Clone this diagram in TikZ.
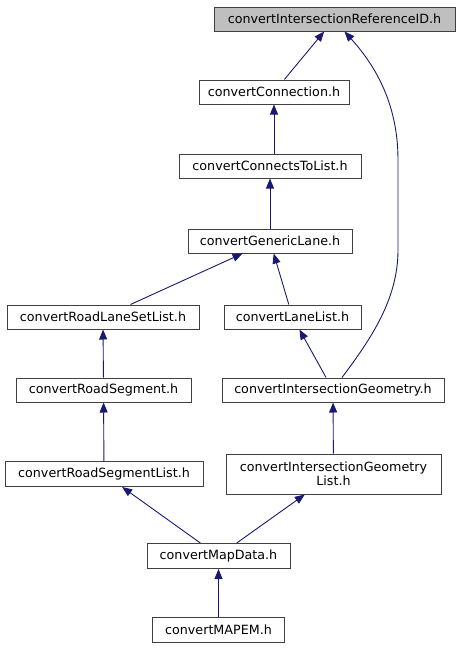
\documentclass[tikz,border=0pt]{standalone}
\usepackage{fontspec}
\setmainfont{DejaVu Sans}
\usetikzlibrary{arrows.meta}
\definecolor{edgenavy}{RGB}{25,25,112}
\definecolor{rootgray}{RGB}{191,191,191}

\begin{document}
\begin{tikzpicture}[x=1pt,y=-1pt,
 file/.style={rectangle,draw=black!75,line width=1pt,fill=white,minimum height=24pt,inner sep=2pt,font=\fontsize{12.7}{14.5}\selectfont},
 root/.style={file,fill=rootgray},
 dep/.style={-{Triangle[length=10pt,width=8pt]},draw=edgenavy,line width=0.9pt}
]
\useasboundingbox (0,0) rectangle (460,649);
\node[root,minimum width=241pt] (refid) at (334.5,19) {convertIntersectionReferenceID.h};
\node[file,minimum width=150pt] (conn) at (274,92) {convertConnection.h};
\node[file,minimum width=182pt] (ctl) at (270,166) {convertConnectsToList.h};
\node[file,minimum width=164pt] (glane) at (270,241) {convertGenericLane.h};
\node[file,minimum width=192pt] (rlsl) at (103,317) {convertRoadLaneSetList.h}; \node[file,minimum width=137pt] (llist) at (292.5,317) {convertLaneList.h};
\node[file,minimum width=175pt] (rseg) at (103.5,390) {convertRoadSegment.h}; \node[file,minimum width=222pt] (igeo) at (333,390) {convertIntersectionGeometry.h};
\node[file,minimum width=198pt,minimum height=25pt] (rsl) at (104,474) {convertRoadSegmentList.h};
\node[file,minimum width=215pt,minimum height=40pt,align=center] (igl) at (333.5,474) {convertIntersectionGeometry\\List.h};
\node[file,minimum width=143pt,minimum height=25pt] (mapdata) at (218.5,556) {convertMapData.h};
\node[file,minimum width=132pt,minimum height=25pt] (mapem) at (218.5,630) {convertMAPEM.h};
\draw[dep] (conn) -- (refid); \draw[dep] (ctl.north -| conn) -- (conn); \draw[dep] (glane) -- (ctl);
\draw[dep] (rlsl) -- (glane); \draw[dep] (llist) -- (glane);
\draw[dep] (rseg) -- (rlsl); \draw[dep] (igeo) -- (llist);
\draw[dep] ([xshift=9pt]igeo.north) .. controls (370,340) and (398,300) .. (398,250) -- (398,160) .. controls (398,100) and (372,62) .. ([xshift=10pt]refid.south);
\draw[dep] (rsl) -- (rseg); \draw[dep] (igl) -- (igeo);
\draw[dep] (mapdata) -- (rsl); \draw[dep] (mapdata) -- (igl);
\draw[dep] (mapem) -- (mapdata);
\end{tikzpicture}
\end{document}
